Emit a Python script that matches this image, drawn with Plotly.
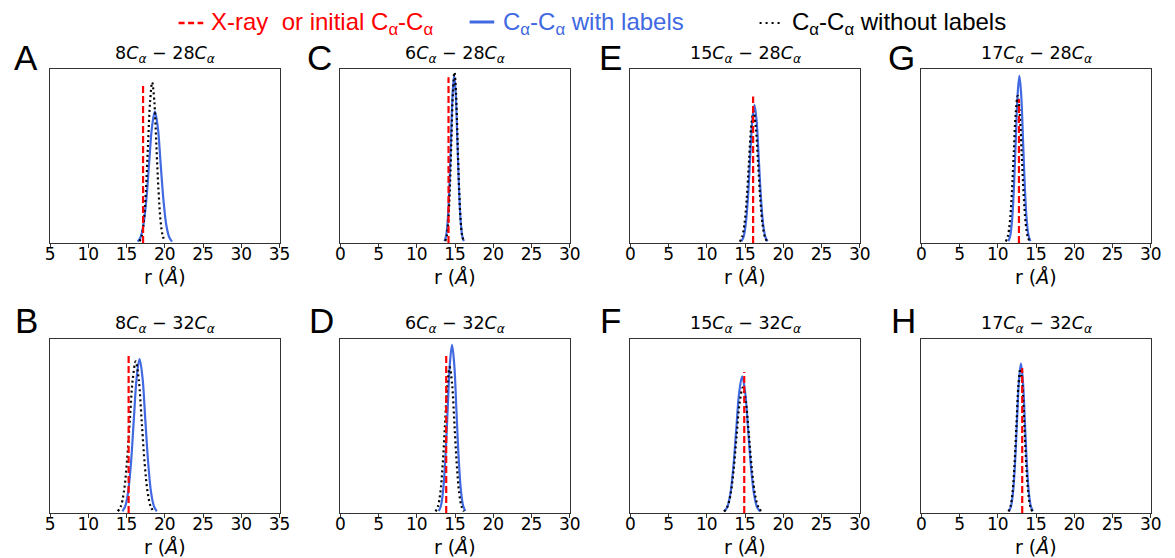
import plotly.graph_objects as go

# ---------------- data ----------------
panels = ["A", "B", "C", "D", "E", "F", "G", "H"]
titles = ["8<i>C</i><sub><i>α</i></sub> − 28<i>C</i><sub><i>α</i></sub>",
          "8<i>C</i><sub><i>α</i></sub> − 32<i>C</i><sub><i>α</i></sub>",
          "6<i>C</i><sub><i>α</i></sub> − 28<i>C</i><sub><i>α</i></sub>",
          "6<i>C</i><sub><i>α</i></sub> − 32<i>C</i><sub><i>α</i></sub>",
          "15<i>C</i><sub><i>α</i></sub> − 28<i>C</i><sub><i>α</i></sub>",
          "15<i>C</i><sub><i>α</i></sub> − 32<i>C</i><sub><i>α</i></sub>",
          "17<i>C</i><sub><i>α</i></sub> − 28<i>C</i><sub><i>α</i></sub>",
          "17<i>C</i><sub><i>α</i></sub> − 32<i>C</i><sub><i>α</i></sub>"]
x_ranges = [[5, 35], [5, 35], [0, 30], [0, 30], [0, 30], [0, 30], [0, 30], [0, 30]]
ticks_8 = [5, 10, 15, 20, 25, 30, 35]
ticks_other = [0, 5, 10, 15, 20, 25, 30]

# X-ray / initial Ca-Ca distance (dashed red line) and its drawn height (fraction of axis)
xray_r = [17.16, 15.27, 14.14, 13.84, 16.05, 14.89, 12.76, 13.19]
xray_top = [0.915, 0.906, 0.952, 0.915, 0.842, 0.81, 0.826, 0.833]

# distance distributions (r in Å, normalised density as fraction of axis height)
A_blue_r = [16.45, 16.83, 17.2, 17.58, 17.95, 18.33, 18.7, 19.08, 19.45, 19.83, 20.2, 20.58, 20.95]
A_blue_p = [0.008, 0.033, 0.102, 0.245, 0.459, 0.667, 0.756, 0.667, 0.459, 0.245, 0.102, 0.033, 0.008]
A_black_r = [16.7, 16.98, 17.25, 17.53, 17.8, 18.08, 18.35, 18.63, 18.9, 19.18, 19.45, 19.73, 20.0]
A_black_p = [0.010, 0.041, 0.125, 0.300, 0.560, 0.815, 0.923, 0.815, 0.560, 0.300, 0.125, 0.041, 0.010]

B_blue_r = [14.45, 14.83, 15.2, 15.58, 15.95, 16.33, 16.7, 17.08, 17.45, 17.83, 18.2, 18.58, 18.95]
B_blue_p = [0.010, 0.039, 0.120, 0.287, 0.537, 0.781, 0.885, 0.781, 0.537, 0.287, 0.120, 0.039, 0.010]
B_black_r = [13.86, 14.25, 14.64, 15.03, 15.42, 15.81, 16.2, 16.59, 16.98, 17.37, 17.76, 18.15, 18.54]
B_black_p = [0.010, 0.038, 0.118, 0.283, 0.528, 0.769, 0.871, 0.769, 0.528, 0.283, 0.118, 0.038, 0.010]

C_blue_r = [13.62, 13.83, 14.04, 14.25, 14.46, 14.67, 14.88, 15.09, 15.3, 15.51, 15.72, 15.93, 16.14]
C_blue_p = [0.011, 0.042, 0.131, 0.313, 0.585, 0.852, 0.965, 0.852, 0.585, 0.313, 0.131, 0.042, 0.011]
C_black_r = [13.72, 13.92, 14.12, 14.32, 14.52, 14.72, 14.92, 15.12, 15.32, 15.52, 15.72, 15.92, 16.12]
C_black_p = [0.011, 0.043, 0.133, 0.319, 0.595, 0.866, 0.981, 0.866, 0.595, 0.319, 0.133, 0.043, 0.011]

D_blue_r = [12.86, 13.15, 13.44, 13.73, 14.02, 14.31, 14.6, 14.89, 15.18, 15.47, 15.76, 16.05, 16.34]
D_blue_p = [0.011, 0.042, 0.131, 0.314, 0.586, 0.853, 0.967, 0.853, 0.586, 0.314, 0.131, 0.042, 0.011]
D_black_r = [12.44, 12.75, 13.06, 13.37, 13.68, 13.99, 14.3, 14.61, 14.92, 15.23, 15.54, 15.85, 16.16]
D_black_p = [0.009, 0.037, 0.113, 0.272, 0.508, 0.740, 0.838, 0.740, 0.508, 0.272, 0.113, 0.037, 0.009]

E_blue_r = [14.51, 14.80, 15.08, 15.37, 15.65, 15.94, 16.22, 16.51, 16.79, 17.08, 17.36, 17.65, 17.93]
E_blue_p = [0.009, 0.035, 0.107, 0.258, 0.482, 0.701, 0.794, 0.701, 0.482, 0.258, 0.107, 0.035, 0.009]
E_black_r = [14.3, 14.6, 14.9, 15.2, 15.5, 15.8, 16.1, 16.4, 16.7, 17.0, 17.3, 17.6, 17.9]
E_black_p = [0.008, 0.033, 0.102, 0.245, 0.459, 0.667, 0.756, 0.667, 0.459, 0.245, 0.102, 0.033, 0.008]

F_blue_r = [12.28, 12.67, 13.06, 13.45, 13.84, 14.23, 14.62, 15.01, 15.4, 15.79, 16.18, 16.57, 16.96]
F_blue_p = [0.009, 0.034, 0.106, 0.255, 0.476, 0.693, 0.785, 0.693, 0.476, 0.255, 0.106, 0.034, 0.009]
F_black_r = [12.24, 12.65, 13.06, 13.47, 13.88, 14.29, 14.7, 15.11, 15.52, 15.93, 16.34, 16.75, 17.16]
F_black_p = [0.008, 0.032, 0.097, 0.234, 0.437, 0.635, 0.720, 0.635, 0.437, 0.234, 0.097, 0.032, 0.008]

G_blue_r = [11.38, 11.62, 11.86, 12.1, 12.34, 12.58, 12.82, 13.06, 13.3, 13.54, 13.78, 14.02, 14.26]
G_blue_p = [0.011, 0.042, 0.130, 0.312, 0.583, 0.848, 0.961, 0.848, 0.583, 0.312, 0.130, 0.042, 0.011]
G_black_r = [11.04, 11.3, 11.56, 11.82, 12.08, 12.34, 12.6, 12.86, 13.12, 13.38, 13.64, 13.9, 14.16]
G_black_p = [0.009, 0.037, 0.114, 0.275, 0.513, 0.747, 0.846, 0.747, 0.513, 0.275, 0.114, 0.037, 0.009]

H_blue_r = [11.46, 11.72, 11.98, 12.24, 12.5, 12.76, 13.02, 13.28, 13.54, 13.8, 14.06, 14.32, 14.58]
H_blue_p = [0.010, 0.038, 0.116, 0.279, 0.520, 0.757, 0.858, 0.757, 0.520, 0.279, 0.116, 0.038, 0.010]
H_black_r = [11.39, 11.65, 11.91, 12.17, 12.43, 12.69, 12.95, 13.21, 13.47, 13.73, 13.99, 14.25, 14.51]
H_black_p = [0.009, 0.036, 0.112, 0.269, 0.503, 0.732, 0.829, 0.732, 0.503, 0.269, 0.112, 0.036, 0.009]

blue_r = [A_blue_r, B_blue_r, C_blue_r, D_blue_r, E_blue_r, F_blue_r, G_blue_r, H_blue_r]
blue_p = [A_blue_p, B_blue_p, C_blue_p, D_blue_p, E_blue_p, F_blue_p, G_blue_p, H_blue_p]
black_r = [A_black_r, B_black_r, C_black_r, D_black_r, E_black_r, F_black_r, G_black_r, H_black_r]
black_p = [A_black_p, B_black_p, C_black_p, D_black_p, E_black_p, F_black_p, G_black_p, H_black_p]

legend_red = "X-ray  or initial C<sub>α</sub>-C<sub>α</sub>"
legend_blue = "C<sub>α</sub>-C<sub>α</sub> with labels"
legend_black = "C<sub>α</sub>-C<sub>α</sub> without labels"

# ---------------- layout geometry (pixels) ----------------
W, H = 1175, 558
col_left = [45.7, 340.0, 634.0, 929.0]
ax_w = 232.6
row_top = [69.0, 339.0]
ax_h = 174.0
panel_row = [0, 1, 0, 1, 0, 1, 0, 1]
panel_col = [0, 0, 1, 1, 2, 2, 3, 3]
letter_pos = [(21, 57.5), (22, 320), (319, 57.5), (321, 320),
              (614, 57.5), (614, 320), (909, 57.5), (911, 320)]

BLUE = "#4169E1"
RED = "#FF0000"
MPL_FONT = "DejaVu Sans"
SANS = "Liberation Sans"

def px_x(x):
    return x / W

def px_y(y):
    return 1 - y / H

fig = go.Figure()
annotations = []
shapes = []

for i, p in enumerate(panels):
    r, c = panel_row[i], panel_col[i]
    suffix = "" if i == 0 else str(i + 1)
    xa, ya = "x" + suffix, "y" + suffix
    x0 = px_x(col_left[c])
    x1 = px_x(col_left[c] + ax_w)
    y1 = px_y(row_top[r])
    y0 = px_y(row_top[r] + ax_h)

    fig.add_trace(go.Scatter(x=blue_r[i], y=blue_p[i], mode="lines",
                             line=dict(color=BLUE, width=2.2, shape="spline", smoothing=1.0),
                             xaxis=xa, yaxis=ya, showlegend=False, hoverinfo="skip"))
    fig.add_trace(go.Scatter(x=black_r[i], y=black_p[i], mode="lines",
                             line=dict(color="black", width=2.2, dash="2px,3px", shape="spline", smoothing=1.0),
                             xaxis=xa, yaxis=ya, showlegend=False, hoverinfo="skip"))
    fig.add_trace(go.Scatter(x=[xray_r[i], xray_r[i]], y=[0, xray_top[i]], mode="lines",
                             line=dict(color=RED, width=2.2, dash="7px,3px"),
                             xaxis=xa, yaxis=ya, showlegend=False, hoverinfo="skip"))

    tv = ticks_8 if x_ranges[i][0] == 5 else ticks_other
    axis_common = dict(showgrid=False, zeroline=False, showline=True, mirror=True,
                       linecolor="#333333", linewidth=1)
    fig.layout["xaxis" + suffix] = dict(domain=[x0, x1], anchor=ya, range=x_ranges[i],
                                        tickvals=tv, ticktext=[str(t) for t in tv],
                                        ticks="outside", ticklen=4, tickwidth=1, tickcolor="#333333",
                                        ticklabelstandoff=-8,
                                        tickfont=dict(family=MPL_FONT, size=17, color="black"),
                                        **axis_common)
    fig.layout["yaxis" + suffix] = dict(domain=[y0, y1], anchor=xa, range=[0, 1],
                                        showticklabels=False, ticks="", **axis_common)

    # subplot title
    annotations.append(dict(x=(x0 + x1) / 2, y=px_y(row_top[r] - 1.5), xref="paper", yref="paper",
                            text=titles[i], showarrow=False, xanchor="center", yanchor="bottom",
                            font=dict(family=MPL_FONT, size=17.5, color="black")))
    # x-axis label
    annotations.append(dict(x=(x0 + x1) / 2, y=px_y(row_top[r] + ax_h + 34), xref="paper", yref="paper",
                            text="r (<i>Å</i>)", showarrow=False, xanchor="center", yanchor="middle",
                            font=dict(family=MPL_FONT, size=19, color="black")))
    # panel letter
    lx, ly = letter_pos[i]
    annotations.append(dict(x=px_x(lx), y=px_y(ly), xref="paper", yref="paper",
                            text=p, showarrow=False, xanchor="center", yanchor="middle",
                            font=dict(family=SANS, size=35, color="black")))

# ---------------- figure legend (top) ----------------
leg_y = px_y(24)
shapes.append(dict(type="line", xref="paper", yref="paper", x0=px_x(176), x1=px_x(201),
                   y0=px_y(23), y1=px_y(23), line=dict(color=RED, width=2.5, dash="6px,3.5px")))
annotations.append(dict(x=px_x(207), y=leg_y, xref="paper", yref="paper", xanchor="left", yanchor="middle",
                        text=legend_red, showarrow=False,
                        font=dict(family=SANS, size=24, color=RED)))
shapes.append(dict(type="line", xref="paper", yref="paper", x0=px_x(471), x1=px_x(496),
                   y0=px_y(22), y1=px_y(22), line=dict(color=BLUE, width=3)))
annotations.append(dict(x=px_x(503), y=leg_y, xref="paper", yref="paper", xanchor="left", yanchor="middle",
                        text=legend_blue, showarrow=False,
                        font=dict(family=SANS, size=24, color=BLUE)))
shapes.append(dict(type="line", xref="paper", yref="paper", x0=px_x(765), x1=px_x(789),
                   y0=px_y(23), y1=px_y(23), line=dict(color="black", width=2, dash="2px,4px")))
annotations.append(dict(x=px_x(796), y=leg_y, xref="paper", yref="paper", xanchor="left", yanchor="middle",
                        text=legend_black, showarrow=False,
                        font=dict(family=SANS, size=24, color="black")))

fig.update_layout(width=W, height=H, margin=dict(l=0, r=0, t=0, b=0),
                  paper_bgcolor="white", plot_bgcolor="white",
                  annotations=annotations, shapes=shapes, showlegend=False)

fig.write_html("out.html", config={"displayModeBar": False},
               post_script="document.body.style.margin='0px';")
